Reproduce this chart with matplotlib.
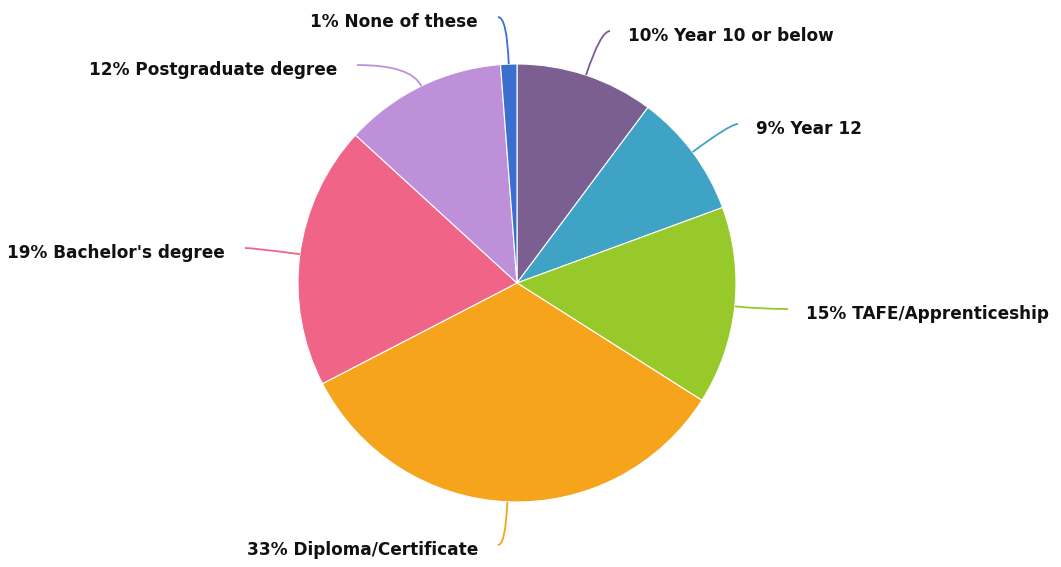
import numpy as np
import matplotlib.pyplot as plt
from matplotlib.path import Path
from matplotlib.patches import PathPatch

categories = ["Year 10 or below", "Year 12", "TAFE/Apprenticeship", "Diploma/Certificate",
              "Bachelor's degree", "Postgraduate degree", "None of these"]
shares = [10.2, 9.2, 14.6, 33.4, 19.4, 12.0, 1.2]
colors = ["#7b5f91", "#3fa3c5", "#97c92b", "#f5a41b", "#f06587", "#bf90da", "#3a6fd0"]

# label line end points (pixel layout, y down)
label_ends = [(610, 31), (738, 124), (788, 309), (498, 545), (245, 248), (357, 65), (498, 17)]

W, H = 1061, 567
cx, cy, R = 517, 283, 219

fig = plt.figure(figsize=(W / 100, H / 100), dpi=100)
ax = fig.add_axes([0, 0, 1, 1])

wedges, _ = ax.pie(shares, colors=colors, center=(cx, cy), radius=R,
                   startangle=-90, counterclock=True,
                   wedgeprops=dict(edgecolor="white", linewidth=0.8))
ax.set_xlim(0, W)
ax.set_ylim(H, 0)
ax.set_aspect("equal")
ax.axis("off")

for w, name, v, col, (ex, ey) in zip(wedges, categories, shares, colors, label_ends):
    mid = np.deg2rad((w.theta1 + w.theta2) / 2)
    dx, dy = np.cos(mid), np.sin(mid)
    sx, sy = cx + R * dx, cy + R * dy
    # control point: along the radial line at the end point's height
    if abs(dy) > 0.05:
        d = (ey - cy) / dy
    else:
        d = (ex - cx) / dx
    d = max(d, R * 1.05)
    px, py = cx + d * dx, cy + d * dy
    path = Path([(sx, sy), (px, py), (ex, ey)], [Path.MOVETO, Path.CURVE3, Path.CURVE3])
    ax.add_patch(PathPatch(path, fill=False, edgecolor=col, linewidth=1.3))
    label = f"{round(v)}% {name}"
    if ex > sx:
        ax.text(ex + 18, ey + 5, label, ha="left", va="center",
                fontsize=12.2, fontweight="bold", family="DejaVu Sans", color="#111111")
    else:
        ax.text(ex - 20, ey + 5, label, ha="right", va="center",
                fontsize=12.2, fontweight="bold", family="DejaVu Sans", color="#111111")

fig.savefig("out.png", dpi=100)
